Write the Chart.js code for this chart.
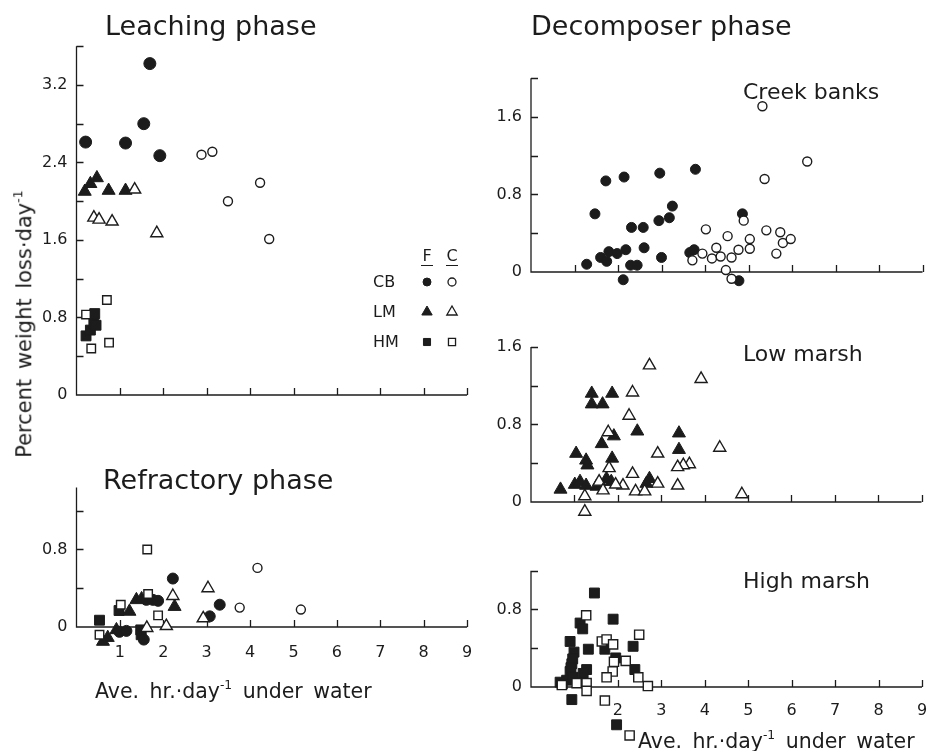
<!DOCTYPE html>
<html>
<head>
<meta charset="utf-8">
<script src="https://cdn.jsdelivr.net/npm/chart.js@4.4.1/dist/chart.umd.min.js"></script>
<style>
  body { margin: 0; background: #fff; }
  #page { position: relative; width: 930px; height: 751px; overflow: hidden;
          font-family: "DejaVu Sans", sans-serif; color: #1c1c1c; background: #fff; }
  #page canvas { position: absolute; }
  .t { position: absolute; white-space: nowrap; line-height: 1; }
  .title { font-size: 27px; }
  .sub { font-size: 22px; }
  .axt { font-size: 20.5px; word-spacing: 4px; }
  .sup { font-size: 0.6em; vertical-align: 0.75em; }
  #ytitle { left: 24px; top: 324px; font-size: 21px; word-spacing: 3px; transform: translate(-50%, -50%) rotate(-90deg); }
</style>
</head>
<body>
<div id="page">
  <canvas id="leach"></canvas>
  <canvas id="refr"></canvas>
  <canvas id="creek"></canvas>
  <canvas id="low"></canvas>
  <canvas id="high"></canvas>

  <div class="t title" style="left:105px; top:12px;">Leaching phase</div>
  <div class="t title" style="left:531px; top:12px;">Decomposer phase</div>
  <div class="t title" style="left:103px; top:466px;">Refractory phase</div>
  <div class="t sub" style="left:743px; top:81px;">Creek banks</div>
  <div class="t sub" style="left:743px; top:343px;">Low marsh</div>
  <div class="t sub" style="left:743px; top:570px;">High marsh</div>
  <div class="t axt" style="left:95px; top:679px;">Ave. hr.·day<span class="sup">-1</span> under water</div>
  <div class="t axt" style="left:638px; top:729px;">Ave. hr.·day<span class="sup">-1</span> under water</div>
  <div class="t axt" id="ytitle">Percent weight loss·day<span class="sup">-1</span></div>
</div>

<script>
// ---- Leaching phase: [hours under water per day, % weight loss per day]
const leachCBF = [[0.21,2.61],[1.13,2.60],[1.55,2.80],[1.69,3.42],[1.92,2.47]];
const leachCBC = [[2.88,2.48],[3.13,2.51],[3.49,2.00],[4.23,2.19],[4.44,1.61]];
const leachLMF = [[0.19,2.10],[0.32,2.18],[0.47,2.24],[0.74,2.11],[1.13,2.11]];
const leachLMC = [[1.34,2.12],[0.40,1.83],[0.52,1.81],[0.82,1.79],[1.85,1.67]];
const leachHMF = [[0.22,0.61],[0.32,0.67],[0.40,0.74],[0.45,0.72],[0.42,0.84]];
const leachHMC = [[0.22,0.83],[0.34,0.48],[0.75,0.54],[0.70,0.98]];

// ---- Refractory phase
const refrCBF = [[2.22,0.50],[3.30,0.23],[3.07,0.11],[1.61,0.28],[1.76,0.28],[1.88,0.27],[0.99,-0.05],[1.15,-0.04],[1.55,-0.13]];
const refrCBC = [[4.17,0.61],[3.76,0.20],[5.17,0.18]];
const refrLMF = [[2.26,0.21],[1.38,0.28],[1.50,0.29],[1.22,0.16],[0.61,-0.15],[0.72,-0.11],[0.92,-0.03]];
const refrLMC = [[3.03,0.40],[2.22,0.32],[2.92,0.09],[2.07,0.01],[1.62,-0.01]];
const refrHMF = [[0.98,0.17],[0.53,0.07],[1.48,-0.03],[1.49,-0.08]];
const refrHMC = [[1.63,0.80],[1.65,0.34],[1.02,0.23],[1.88,0.12],[0.53,-0.08]];

// ---- Decomposer phase, creek banks
const creekF = [[1.28,0.08],[1.47,0.60],[1.72,0.94],[1.60,0.15],[1.74,0.11],[1.79,0.21],[1.98,0.19],[2.14,0.98],
  [2.18,0.23],[2.31,0.46],[2.29,0.07],[2.44,0.07],[2.58,0.46],[2.60,0.25],[2.12,-0.08],[2.96,1.02],[2.94,0.53],
  [3.18,0.56],[3.25,0.68],[3.00,0.15],[3.78,1.06],[3.65,0.20],[3.75,0.23],[4.86,0.60],[4.78,-0.09]];
const creekC = [[5.32,1.71],[6.35,1.14],[5.37,0.96],[4.02,0.44],[4.52,0.37],[4.26,0.25],[3.94,0.19],[3.71,0.12],
  [4.16,0.14],[4.36,0.16],[4.61,0.15],[4.77,0.23],[5.03,0.34],[5.03,0.24],[4.89,0.53],[5.41,0.43],[5.64,0.19],
  [5.73,0.41],[5.79,0.30],[5.97,0.34],[4.48,0.02],[4.61,-0.07]];

// ---- Decomposer phase, low marsh
const lowF = [[0.68,0.13],[1.01,0.18],[1.13,0.21],[1.27,0.17],[1.04,0.50],[1.27,0.43],[1.30,0.38],[1.40,1.12],
  [1.40,1.01],[1.65,1.01],[1.87,1.12],[1.63,0.60],[1.87,0.45],[1.91,0.68],[2.45,0.73],[1.74,0.24],[1.85,0.21],
  [1.51,0.16],[2.73,0.24],[2.66,0.19],[3.41,0.71],[3.41,0.54]];
const lowC = [[2.73,1.41],[3.92,1.27],[2.34,1.13],[2.26,0.89],[1.78,0.72],[4.35,0.56],[2.92,0.50],[3.65,0.39],
  [3.51,0.38],[3.38,0.36],[1.80,0.35],[2.34,0.29],[1.57,0.21],[2.12,0.17],[2.92,0.19],[3.38,0.17],[2.41,0.11],
  [2.62,0.11],[1.66,0.12],[1.95,0.18],[1.24,0.06],[1.24,-0.10],[4.86,0.08]];

// ---- Decomposer phase, high marsh
const highF = [[1.46,0.97],[1.89,0.70],[1.13,0.66],[1.19,0.60],[0.90,0.47],[1.32,0.39],[0.99,0.36],[1.70,0.39],
  [2.35,0.42],[0.94,0.24],[1.95,0.30],[0.90,0.16],[1.28,0.18],[1.20,0.14],[2.39,0.18],[0.67,0.05],[0.82,0.07],
  [0.94,-0.13],[1.97,-0.39],[0.96,0.29],[0.92,0.20],[0.97,0.10],[0.72,0.03]];
const highC = [[1.27,0.74],[1.63,0.47],[1.74,0.49],[1.89,0.44],[2.49,0.54],[1.91,0.26],[2.18,0.27],[1.88,0.16],
  [1.74,0.10],[2.47,0.10],[2.69,0.01],[0.71,0.02],[1.05,0.04],[1.28,0.04],[1.28,-0.04],[1.70,-0.14],[2.27,-0.50]];

// ---- Axis ticks and labels
const xTickValues = [1, 2, 3, 4, 5, 6, 7, 8, 9];
const refrXLabels = ['1', '2', '3', '4', '5', '6', '7', '8', '9'];
const highXLabels = ['', '2', '3', '4', '5', '6', '7', '8', '9'];
const leachYLabels = ['0', '0.8', '1.6', '2.4', '3.2'];
const creekYLabels = ['0', '0.8', '1.6'];
const lowYLabels = ['0', '0.8', '1.6'];
const highYLabels = ['0', '0.8'];
const refrYLabels = ['0', '0.8'];

// ---- Legend rows: site and marker shape
const legendSites = ['CB', 'LM', 'HM'];
const legendShapes = ['circle', 'triangle', 'rect'];
const legendCols = ['F', 'C'];

const INK = '#1c1c1c';
const FONT = '"DejaVu Sans", sans-serif';

function markerStyle(shape, filled, r) {
  return {
    pointStyle: shape,
    pointRadius: r,
    pointBackgroundColor: filled ? INK : '#ffffff',
    pointBorderColor: INK,
    pointBorderWidth: filled ? 1 : 1.4
  };
}

function series(points, shape, filled, r) {
  return Object.assign({
    data: points.map(([x, y]) => ({ x, y })),
    showLine: false,
    clip: false
  }, markerStyle(shape, filled, r));
}

// Same geometry as Chart.js point styles, for the key
function drawMarker(ctx, shape, filled, r, x, y) {
  ctx.beginPath();
  if (shape === 'circle') {
    ctx.arc(x, y, r, 0, Math.PI * 2);
  } else if (shape === 'triangle') {
    for (let k = 0; k < 3; k++) {
      const a = k * 2 * Math.PI / 3;
      const px = x + Math.sin(a) * r, py = y - Math.cos(a) * r;
      k ? ctx.lineTo(px, py) : ctx.moveTo(px, py);
    }
    ctx.closePath();
  } else {
    const s = r * Math.SQRT1_2;
    ctx.rect(x - s, y - s, 2 * s, 2 * s);
  }
  ctx.fillStyle = filled ? INK : '#fff';
  ctx.strokeStyle = INK;
  ctx.lineWidth = filled ? 1 : 1.3;
  ctx.fill();
  ctx.stroke();
}

function axesPlugin(cfg) {
  return {
    id: 'panelAxes',
    beforeDatasetsDraw(chart) {
      const sx = chart.scales.x, sy = chart.scales.y, ctx = chart.ctx;
      const X0 = sx.getPixelForValue(0), Y0 = sy.getPixelForValue(0);
      ctx.save();
      ctx.strokeStyle = INK;
      ctx.lineWidth = 1.3;
      ctx.beginPath();
      ctx.moveTo(X0, sy.getPixelForValue(cfg.yTop));
      ctx.lineTo(X0, Y0);
      ctx.lineTo(sx.getPixelForValue(9), Y0);
      for (let v = cfg.yStep; v <= cfg.yTop + 1e-6; v += cfg.yStep) {
        const py = Math.round(sy.getPixelForValue(v)) + 0.5;
        ctx.moveTo(X0, py); ctx.lineTo(X0 + 7, py);
      }
      xTickValues.forEach(v => {
        const px = Math.round(sx.getPixelForValue(v)) + 0.5;
        ctx.moveTo(px, Y0); ctx.lineTo(px, Y0 - 7);
      });
      ctx.stroke();

      ctx.fillStyle = INK;
      ctx.font = '16px ' + FONT;
      ctx.textAlign = 'right';
      ctx.textBaseline = 'middle';
      cfg.yLabels.forEach((t, i) => {
        ctx.fillText(t, X0 - 9, sy.getPixelForValue(i * 0.8));
      });
      if (cfg.xLabels) {
        ctx.textAlign = 'center';
        cfg.xLabels.forEach((t, i) => {
          if (t) ctx.fillText(t, sx.getPixelForValue(xTickValues[i]), Y0 + cfg.xLabelGap);
        });
      }
      ctx.restore();
    },
    afterDatasetsDraw(chart) {
      if (!cfg.legend) return;
      const ctx = chart.ctx;
      const off = cfg.box;
      const colX = [427 - off[0], 452 - off[0]];
      const rowY = [282, 312, 342].map(v => v - off[1]);
      ctx.save();
      ctx.fillStyle = INK;
      ctx.strokeStyle = INK;
      ctx.font = '16px ' + FONT;
      ctx.textAlign = 'center';
      ctx.textBaseline = 'alphabetic';
      legendCols.forEach((c, j) => {
        ctx.fillText(c, colX[j], 261 - off[1]);
        ctx.lineWidth = 1;
        ctx.beginPath();
        ctx.moveTo(colX[j] - 6, 265.5 - off[1]);
        ctx.lineTo(colX[j] + 6, 265.5 - off[1]);
        ctx.stroke();
      });
      ctx.textAlign = 'left';
      ctx.textBaseline = 'middle';
      legendSites.forEach((s, i) => {
        ctx.fillStyle = INK;
        ctx.fillText(s, 373 - off[0], rowY[i] + 0.5);
        const r = legendShapes[i] === 'circle' ? 4 : (legendShapes[i] === 'triangle' ? 6 : 5);
        drawMarker(ctx, legendShapes[i], true, r, colX[0], rowY[i]);
        drawMarker(ctx, legendShapes[i], false, r, colX[1], rowY[i]);
      });
      ctx.restore();
    }
  };
}

// Each panel: canvas box [left, top, width, height] on the page, and the pixel
// spot of the origin plus units per pixel so every panel shares one scale.
const UY = 96.9;
const panels = [
  { id: 'leach', box: [0, 0, 480, 430], x0: 76.5, ux: 43.4, y0: 395, ymin: 0, ymax: 3.6, yTop: 3.6,
    yLabels: leachYLabels, xLabels: null, legend: true,
    datasets: [
      series(leachCBC, 'circle', false, 4.5), series(leachLMC, 'triangle', false, 7), series(leachHMC, 'rect', false, 6),
      series(leachCBF, 'circle', true, 6), series(leachLMF, 'triangle', true, 7.5), series(leachHMF, 'rect', true, 7)
    ] },
  { id: 'refr', box: [0, 430, 480, 321], x0: 76.5, ux: 43.4, y0: 627, ymin: -0.3, ymax: 1.44, yTop: 1.44,
    yLabels: refrYLabels, xLabels: refrXLabels, xLabelGap: 26,
    datasets: [
      series(refrCBC, 'circle', false, 4.5), series(refrLMC, 'triangle', false, 7), series(refrHMC, 'rect', false, 6),
      series(refrCBF, 'circle', true, 5.5), series(refrLMF, 'triangle', true, 7.5), series(refrHMF, 'rect', true, 7)
    ] },
  { id: 'creek', box: [456, 50, 474, 250], x0: 531, ux: 43.5, y0: 272, ymin: -0.15, ymax: 2.0, yTop: 2.0,
    yLabels: creekYLabels, xLabels: null,
    datasets: [ series(creekC, 'circle', false, 4.5), series(creekF, 'circle', true, 5) ] },
  { id: 'low', box: [456, 300, 474, 230], x0: 531, ux: 43.5, y0: 502, ymin: -0.15, ymax: 1.6, yTop: 1.6,
    yLabels: lowYLabels, xLabels: null,
    datasets: [ series(lowC, 'triangle', false, 7), series(lowF, 'triangle', true, 7.5) ] },
  { id: 'high', box: [456, 530, 474, 221], x0: 531, ux: 43.5, y0: 687, ymin: -0.55, ymax: 1.2, yTop: 1.2,
    yLabels: highYLabels, xLabels: highXLabels, xLabelGap: 24,
    datasets: [ series(highC, 'rect', false, 6.5), series(highF, 'rect', true, 7) ] }
];

panels.forEach(p => {
  const [left, top, w, h] = p.box;
  const cv = document.getElementById(p.id);
  cv.width = w; cv.height = h;
  cv.style.left = left + 'px'; cv.style.top = top + 'px';
  cv.style.width = w + 'px'; cv.style.height = h + 'px';
  p.yStep = 0.4;
  const areaLeft = p.x0 - left;
  const areaRight = p.x0 + 9 * p.ux - left;
  const areaTop = p.y0 - p.ymax * UY - top;
  const areaBottom = p.y0 - p.ymin * UY - top;
  new Chart(cv, {
    type: 'scatter',
    data: { datasets: p.datasets },
    options: {
      responsive: false,
      animation: false,
      devicePixelRatio: 1,
      events: [],
      layout: { padding: { left: areaLeft, right: w - areaRight, top: areaTop, bottom: h - areaBottom } },
      scales: {
        x: { type: 'linear', min: 0, max: 9, display: false },
        y: { type: 'linear', min: p.ymin, max: p.ymax, display: false }
      },
      plugins: { legend: { display: false }, tooltip: { enabled: false }, title: { display: false } }
    },
    plugins: [axesPlugin(p)]
  });
});
</script>
</body>
</html>
